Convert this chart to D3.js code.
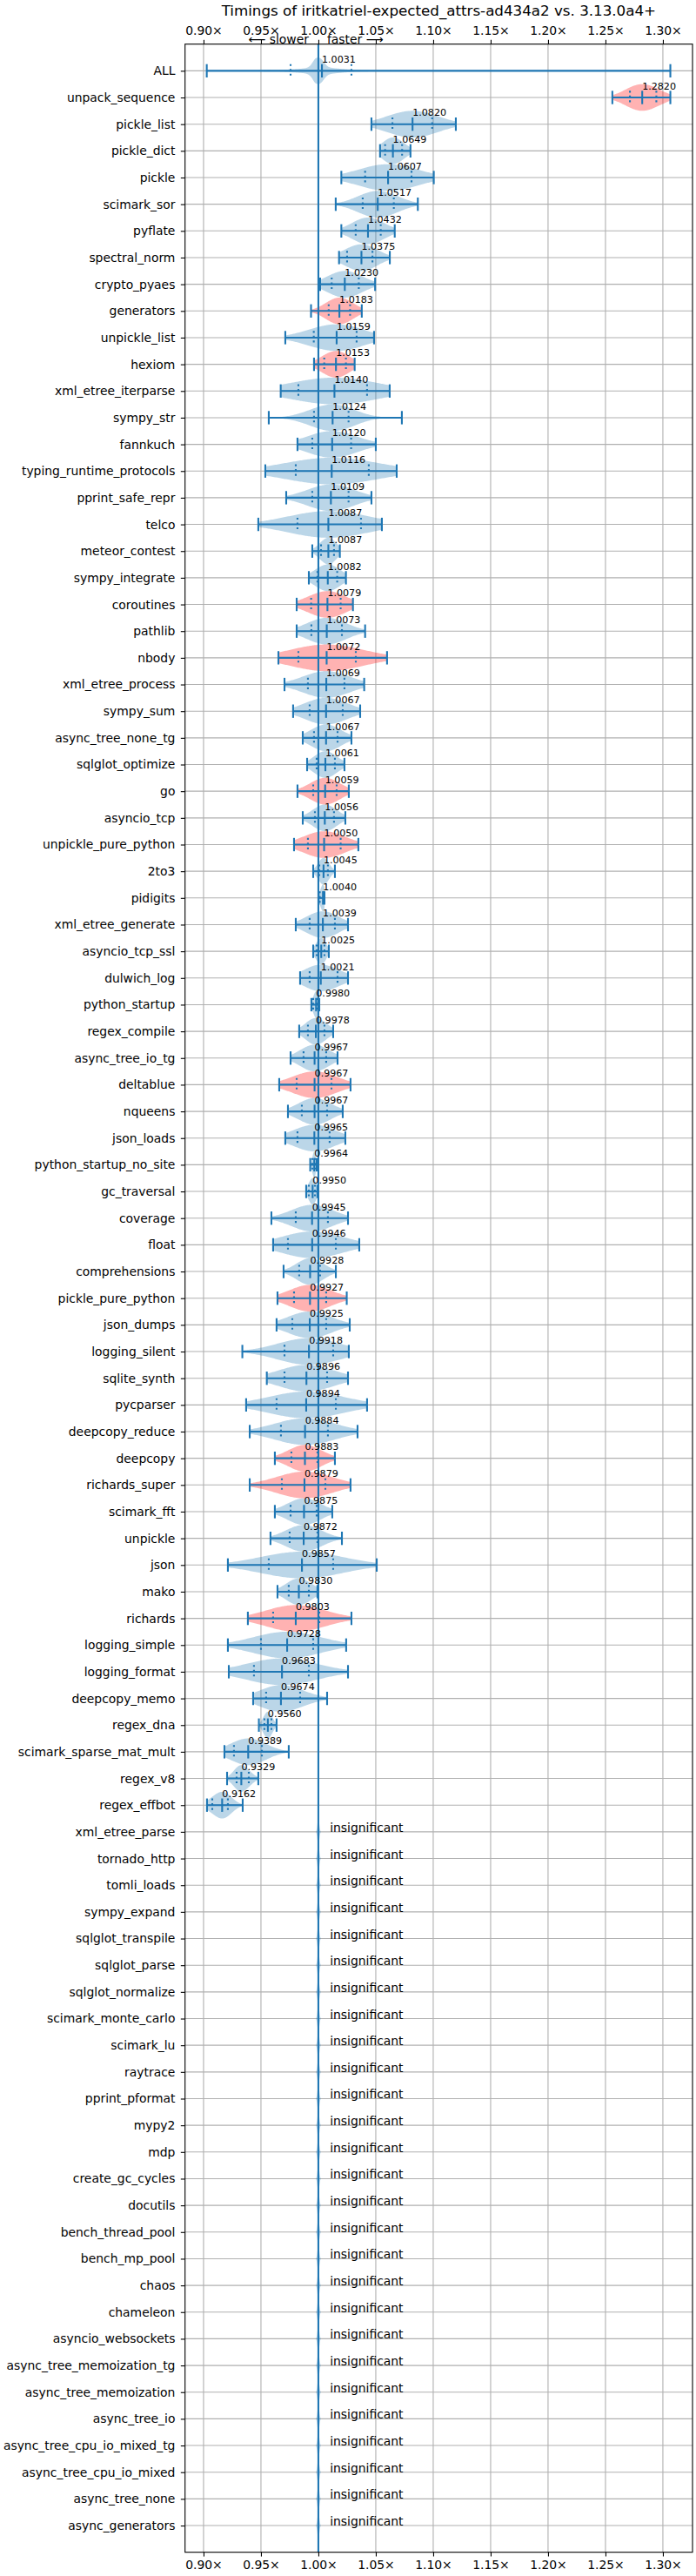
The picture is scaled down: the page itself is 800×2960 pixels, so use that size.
<!DOCTYPE html>
<html><head><meta charset="utf-8">
<script src="https://cdn.jsdelivr.net/npm/d3@7"></script>
<style>body{margin:0;background:#fff}svg{display:block}</style>
</head><body><div id="chart"></div>
<script>
const title = "Timings of iritkatriel-expected_attrs-ad434a2 vs. 3.13.0a4+";
const benchmarks = ["ALL","unpack_sequence","pickle_list","pickle_dict","pickle","scimark_sor","pyflate","spectral_norm","crypto_pyaes","generators","unpickle_list","hexiom","xml_etree_iterparse","sympy_str","fannkuch","typing_runtime_protocols","pprint_safe_repr","telco","meteor_contest","sympy_integrate","coroutines","pathlib","nbody","xml_etree_process","sympy_sum","async_tree_none_tg","sqlglot_optimize","go","asyncio_tcp","unpickle_pure_python","2to3","pidigits","xml_etree_generate","asyncio_tcp_ssl","dulwich_log","python_startup","regex_compile","async_tree_io_tg","deltablue","nqueens","json_loads","python_startup_no_site","gc_traversal","coverage","float","comprehensions","pickle_pure_python","json_dumps","logging_silent","sqlite_synth","pycparser","deepcopy_reduce","deepcopy","richards_super","scimark_fft","unpickle","json","mako","richards","logging_simple","logging_format","deepcopy_memo","regex_dna","scimark_sparse_mat_mult","regex_v8","regex_effbot"];
const insignificant = ["xml_etree_parse","tornado_http","tomli_loads","sympy_expand","sqlglot_transpile","sqlglot_parse","sqlglot_normalize","scimark_monte_carlo","scimark_lu","raytrace","pprint_pformat","mypy2","mdp","create_gc_cycles","docutils","bench_thread_pool","bench_mp_pool","chaos","chameleon","asyncio_websockets","async_tree_memoization_tg","async_tree_memoization","async_tree_io","async_tree_cpu_io_mixed_tg","async_tree_cpu_io_mixed","async_tree_none","async_generators"];
const redRows = ["unpack_sequence","generators","hexiom","coroutines","nbody","go","unpickle_pure_python","deltablue","pickle_pure_python","deepcopy","richards_super","richards"];
const mins = [0.9028,1.2560,1.0462,1.0537,1.0200,1.0151,1.0200,1.0180,1.0015,0.9936,0.9712,0.9962,0.9672,0.9568,0.9818,0.9538,0.9720,0.9477,0.9947,0.9917,0.9811,0.9811,0.9652,0.9705,0.9780,0.9864,0.9902,0.9818,0.9864,0.9788,0.9955,1.0002,0.9803,0.9955,0.9841,0.9939,0.9833,0.9758,0.9659,0.9735,0.9712,0.9929,0.9894,0.9591,0.9606,0.9697,0.9644,0.9636,0.9338,0.9551,0.9371,0.9402,0.9621,0.9402,0.9621,0.9583,0.9212,0.9644,0.9386,0.9212,0.9220,0.9432,0.9482,0.9182,0.9205,0.9030];
const lowQ = [0.9758,1.2713,1.0645,1.0581,1.0407,1.0386,1.0325,1.0250,1.0116,1.0090,0.9960,1.0051,0.9826,0.9962,0.9947,0.9803,0.9947,0.9818,1.0023,0.9992,0.9937,0.9939,0.9826,0.9909,0.9924,0.9962,0.9985,0.9955,0.9970,0.9909,1.0008,1.0012,0.9924,0.9985,0.9924,0.9955,0.9909,0.9871,0.9811,0.9856,0.9818,0.9947,0.9917,0.9803,0.9735,0.9833,0.9788,0.9773,0.9705,0.9705,0.9636,0.9674,0.9765,0.9682,0.9758,0.9750,0.9568,0.9742,0.9606,0.9500,0.9439,0.9545,0.9530,0.9265,0.9288,0.9076];
const medians = [1.0031,1.2820,1.0820,1.0649,1.0607,1.0517,1.0432,1.0375,1.0230,1.0183,1.0159,1.0153,1.0140,1.0124,1.0120,1.0116,1.0109,1.0087,1.0087,1.0082,1.0079,1.0073,1.0072,1.0069,1.0067,1.0067,1.0061,1.0059,1.0056,1.0050,1.0045,1.0040,1.0039,1.0025,1.0021,0.9980,0.9978,0.9967,0.9967,0.9967,0.9965,0.9964,0.9950,0.9945,0.9946,0.9928,0.9927,0.9925,0.9918,0.9896,0.9894,0.9884,0.9883,0.9879,0.9875,0.9872,0.9857,0.9830,0.9803,0.9728,0.9683,0.9674,0.9560,0.9389,0.9329,0.9162];
const highQ = [1.0288,1.2943,1.0991,1.0729,1.0811,1.0657,1.0543,1.0471,1.0352,1.0276,1.0333,1.0240,1.0424,1.0263,1.0285,1.0439,1.0263,1.0371,1.0136,1.0164,1.0194,1.0205,1.0326,1.0227,1.0212,1.0167,1.0144,1.0159,1.0136,1.0194,1.0083,1.0046,1.0144,1.0053,1.0167,0.9992,1.0053,1.0068,1.0114,1.0076,1.0098,0.9970,0.9970,1.0083,1.0152,1.0015,1.0068,1.0068,1.0129,1.0076,1.0152,1.0083,0.9992,1.0061,0.9985,0.9992,1.0129,0.9917,1.0008,0.9955,0.9917,0.9841,0.9591,0.9508,0.9394,0.9212];
const maxs = [1.3065,1.3065,1.1197,1.0802,1.1005,1.0866,1.0665,1.0622,1.0494,1.0378,1.0485,1.0316,1.0621,1.0727,1.0500,1.0682,1.0462,1.0553,1.0187,1.0240,1.0301,1.0407,1.0598,1.0399,1.0364,1.0288,1.0227,1.0265,1.0235,1.0348,1.0144,1.0053,1.0258,1.0091,1.0258,1.0008,1.0129,1.0167,1.0280,1.0212,1.0235,0.9985,0.9992,1.0258,1.0356,1.0152,1.0247,1.0273,1.0265,1.0258,1.0424,1.0341,1.0144,1.0280,1.0121,1.0205,1.0508,0.9992,1.0288,1.0242,1.0258,1.0076,0.9636,0.9742,0.9477,0.9341];
const xTicks = [0.90,0.95,1.00,1.05,1.10,1.15,1.20,1.25,1.30];
const xTickLabels = ["0.90×","0.95×","1.00×","1.05×","1.10×","1.15×","1.20×","1.25×","1.30×"];

const W = 800, H = 2960;
const FONT = "DejaVu Sans";
const BLUE = "#1f77b4";
const allNames = benchmarks.concat(insignificant);
const nRows = allNames.length;

const x = d3.scaleLinear().domain([0.8839, 1.3258]).range([212.7, 796]);
const y = d3.scaleLinear().domain([0, nRows + 1]).range([50.7, 2932.7]);
const rowY = i => y(i + 1);
const unit = y(1) - y(0);
const halfW = 0.5 * unit;     // violin max half width
const capH = 0.25 * unit;     // extrema/median line half length

const svg = d3.select("#chart").append("svg")
  .attr("width", W).attr("height", H)
  .style("font-family", FONT);
svg.append("rect").attr("width", W).attr("height", H).attr("fill", "#fff");

const [X0, X1] = x.range(), [Y0, Y1] = y.range();

// grid
const grid = svg.append("g").attr("stroke", "#b0b0b0").attr("stroke-width", 1.1);
grid.selectAll(".gx").data(xTicks).join("line")
  .attr("x1", d => x(d)).attr("x2", d => x(d)).attr("y1", Y0).attr("y2", Y1);
grid.selectAll(".gy").data(allNames).join("line")
  .attr("x1", X0).attr("x2", X1).attr("y1", (d, i) => rowY(i)).attr("y2", (d, i) => rowY(i));

// densities
const gauss = u => Math.exp(-0.5 * u * u) / Math.sqrt(2 * Math.PI);
function rowPdf(i, v) {
  const pts = [lowQ[i], medians[i], medians[i], highQ[i]];
  const bw = Math.max((highQ[i] - lowQ[i]) * 0.5, 0.0008);
  return d3.sum(pts, p => gauss((v - p) / bw)) / (pts.length * bw);
}
const insigBw = 0.004;
function allPdf(v) {
  let s = 0;
  for (let i = 1; i < benchmarks.length; i++) s += rowPdf(i, v);
  s += insignificant.length * gauss((v - 1) / insigBw) / insigBw;
  return s;
}

const violins = svg.append("g");
function drawViolin(lo, hi, pdf, cy, fill, n) {
  const vs = d3.range(n + 1).map(k => lo + (hi - lo) * k / n);
  const ds = vs.map(pdf);
  const dmax = d3.max(ds);
  const pts = vs.map((v, k) => [v, ds[k] / dmax * halfW]);
  const area = d3.area().x(d => x(d[0])).y0(d => cy + d[1]).y1(d => cy - d[1]);
  violins.append("path").attr("d", area(pts)).attr("fill", fill).attr("fill-opacity", 0.3);
}
benchmarks.forEach((name, i) => {
  const fill = redRows.includes(name) ? "#ff0000" : BLUE;
  const pdf = i === 0 ? allPdf : v => rowPdf(i, v);
  drawViolin(mins[i], maxs[i], pdf, rowY(i), fill, i === 0 ? 800 : 120);
});
insignificant.forEach((name, j) => {
  drawViolin(0.998, 1.002, v => gauss((v - 1) / 0.0008), rowY(benchmarks.length + j), BLUE, 40);
});

// reference line at 1.0
svg.append("line").attr("x1", x(1)).attr("x2", x(1)).attr("y1", Y0).attr("y2", Y1)
  .attr("stroke", BLUE).attr("stroke-width", 2.1);

// violin statistics lines
const stats = svg.append("g").attr("stroke", BLUE).attr("stroke-width", 2.1);
benchmarks.forEach((name, i) => {
  const cy = rowY(i);
  stats.append("line").attr("x1", x(mins[i])).attr("x2", x(maxs[i])).attr("y1", cy).attr("y2", cy);
  [mins[i], maxs[i], medians[i]].forEach(v => {
    stats.append("line").attr("x1", x(v)).attr("x2", x(v)).attr("y1", cy - capH).attr("y2", cy + capH);
  });
  [lowQ[i], highQ[i]].forEach(v => {
    stats.append("line").attr("x1", x(v)).attr("x2", x(v)).attr("y1", cy - capH).attr("y2", cy + capH)
      .attr("stroke-dasharray", "2.1,3.4");
  });
});

// annotations
const ann = svg.append("g").attr("fill", "#000");
benchmarks.forEach((name, i) => {
  ann.append("text").attr("x", x(medians[i])).attr("y", rowY(i) - 0.3 * unit)
    .attr("font-size", 11.1).text(medians[i].toFixed(4));
});
insignificant.forEach((name, j) => {
  ann.append("text").attr("x", x(1.01)).attr("y", rowY(benchmarks.length + j))
    .attr("font-size", 13.9).text("insignificant");
});

// axes
function styleAxis(g) {
  g.select(".domain").remove();
  g.selectAll(".tick line").attr("stroke", "#000").attr("stroke-width", 1.1);
  g.selectAll(".tick text").attr("font-family", FONT).attr("font-size", 13.9).attr("fill", "#000");
}
svg.append("g").attr("transform", `translate(0,${Y0})`)
  .call(d3.axisTop(x).tickValues(xTicks).tickFormat((d, i) => xTickLabels[i]).tickSize(4.9).tickPadding(5.6))
  .call(styleAxis);
svg.append("g").attr("transform", `translate(0,${Y1})`)
  .call(d3.axisBottom(x).tickValues(xTicks).tickFormat((d, i) => xTickLabels[i]).tickSize(4.9).tickPadding(4.9))
  .call(styleAxis);
svg.append("g").attr("transform", `translate(${X0},0)`)
  .call(d3.axisLeft(y).tickValues(d3.range(1, nRows + 1)).tickFormat(d => allNames[d - 1]).tickSize(4.9).tickPadding(6.4))
  .call(styleAxis);

// frame
svg.append("rect").attr("x", X0).attr("y", Y0).attr("width", X1 - X0).attr("height", Y1 - Y0)
  .attr("fill", "none").attr("stroke", "#000").attr("stroke-width", 1.1);

// direction labels
svg.append("text").attr("x", x(1) - 11).attr("y", 50.3).attr("text-anchor", "end")
  .attr("font-size", 13.9).text("⟵ slower");
svg.append("text").attr("x", x(1) + 10).attr("y", 50.3).attr("text-anchor", "start")
  .attr("font-size", 13.9).text("faster ⟶");

// title
svg.append("text").attr("x", (X0 + X1) / 2).attr("y", 18).attr("text-anchor", "middle")
  .attr("font-size", 16.7).text(title);
</script>
</body></html>
